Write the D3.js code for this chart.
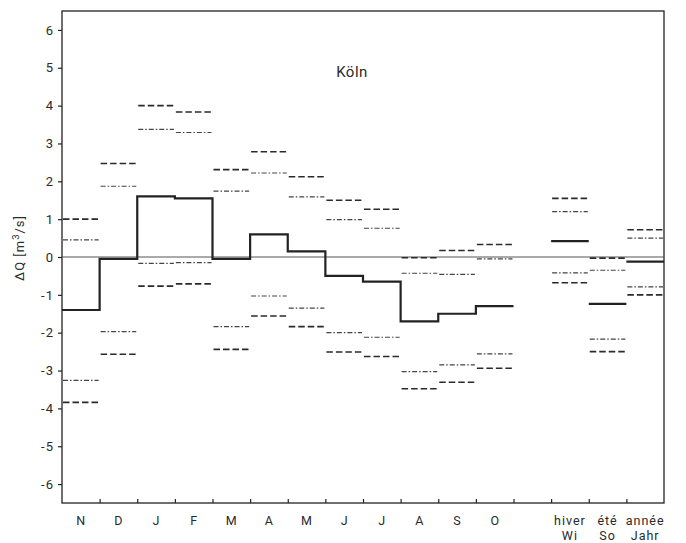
<!DOCTYPE html>
<html>
<head>
<meta charset="utf-8">
<script src="https://cdn.jsdelivr.net/npm/d3@7"></script>
<style>
  html, body { margin: 0; padding: 0; background: #fff; }
  svg { display: block; }
  text { font-family: Roboto, "DejaVu Sans", sans-serif; fill: #2a2a2a; }
</style>
</head>
<body>
<svg id="chart" width="686" height="543"></svg>
<script>
// Monthly discharge change ΔQ at Köln (hydrological year Nov–Oct) plus seasonal/annual blocks
const months = ["N", "D", "J", "F", "M", "A", "M", "J", "J", "A", "S", "O"];
const monthMean = [-1.4, -0.05, 1.6, 1.55, -0.05, 0.6, 0.15, -0.5, -0.65, -1.7, -1.5, -1.3];
const monthUpperDash = [1.0, 2.47, 4.0, 3.83, 2.31, 2.78, 2.12, 1.5, 1.26, -0.02, 0.17, 0.33];
const monthUpperDashDot = [0.45, 1.87, 3.37, 3.29, 1.74, 2.22, 1.59, 0.99, 0.76, -0.43, -0.46, -0.05];
const monthLowerDashDot = [-3.26, -1.97, -0.17, -0.15, -1.84, -1.03, -1.35, -2.0, -2.12, -3.03, -2.85, -2.56];
const monthLowerDash = [-3.84, -2.57, -0.77, -0.71, -2.44, -1.56, -1.84, -2.51, -2.63, -3.48, -3.31, -2.94];

const seasons = [["hiver", "Wi"], ["été", "So"], ["année", "Jahr"]];
const seasonMean = [0.42, -1.24, -0.12];
const seasonUpperDash = [1.55, -0.03, 0.72];
const seasonUpperDashDot = [1.2, -0.35, 0.5];
const seasonLowerDashDot = [-0.42, -2.17, -0.79];
const seasonLowerDash = [-0.68, -2.5, -1.0];

const yTicks = [-6, -5, -4, -3, -2, -1, 0, 1, 2, 3, 4, 5, 6];
const title = "Köln";

// slot layout: 12 months, one empty slot, 3 seasonal slots
const nSlots = 16;
const seasonStart = 13;

const svg = d3.select("#chart");
const plotLeft = 62, plotRight = 664, plotTop = 11, plotBottom = 503;

const x = d3.scaleLinear().domain([0, nSlots]).range([plotLeft, plotRight]);
const y = d3.scaleLinear().domain([-6.5, 6.5]).range([plotBottom, plotTop]);

const ink = "#222";
const labelSize = 12.5;
const labelSpacing = 1;

// frame
svg.append("rect")
  .attr("x", plotLeft).attr("y", plotTop)
  .attr("width", plotRight - plotLeft).attr("height", plotBottom - plotTop)
  .attr("fill", "none").attr("stroke", ink).attr("stroke-width", 1.3);

// zero line
svg.append("line")
  .attr("x1", plotLeft).attr("x2", plotRight)
  .attr("y1", y(0)).attr("y2", y(0))
  .attr("stroke", "#555").attr("stroke-width", 1);

// y axis
const yAxis = svg.append("g")
  .attr("transform", `translate(${plotLeft},0)`)
  .call(d3.axisLeft(y).tickValues(yTicks).tickSize(4)
    .tickFormat(d => d < 0 ? "-" + Math.abs(d) : String(d)));
yAxis.select(".domain").remove();
yAxis.selectAll(".tick line").attr("stroke", ink).attr("stroke-width", 1.2);
yAxis.selectAll(".tick text")
  .attr("x", -8).attr("font-size", 13).style("fill", "#2a2a2a")
  .style("letter-spacing", "1px")
  .style("font-family", "Roboto, 'DejaVu Sans', sans-serif");

// x axis: ticks at slot boundaries, pointing inward
const xAxis = svg.append("g")
  .attr("transform", `translate(0,${plotBottom})`)
  .call(d3.axisBottom(x).tickValues(d3.range(1, nSlots)).tickSizeInner(-4).tickSizeOuter(0).tickFormat(""));
xAxis.select(".domain").remove();
xAxis.selectAll(".tick line").attr("stroke", ink).attr("stroke-width", 1.2);

// month labels
svg.append("g").selectAll("text").data(months).join("text")
  .attr("x", (d, i) => x(i + 0.5))
  .attr("y", 525)
  .attr("text-anchor", "middle")
  .attr("font-size", labelSize)
  .text(d => d);

// seasonal labels (two lines)
const sl = svg.append("g").selectAll("g").data(seasons).join("g");
sl.append("text")
  .attr("x", (d, i) => x(seasonStart + i + 0.5))
  .attr("y", 525).attr("text-anchor", "middle").attr("font-size", labelSize)
  .style("letter-spacing", labelSpacing + "px")
  .text(d => d[0]);
sl.append("text")
  .attr("x", (d, i) => x(seasonStart + i + 0.5))
  .attr("y", 540).attr("text-anchor", "middle").attr("font-size", labelSize)
  .style("letter-spacing", labelSpacing + "px")
  .text(d => d[1]);

// title
svg.append("text")
  .attr("x", 352).attr("y", 77)
  .attr("text-anchor", "middle").attr("font-size", 15)
  .style("letter-spacing", "0.5px")
  .text(title);

// y axis label with superscript unit
const yl = svg.append("text")
  .attr("transform", `translate(24,248) rotate(-90)`)
  .attr("text-anchor", "middle").attr("font-size", 13)
  .style("letter-spacing", "1px");
yl.append("tspan").text("ΔQ  [m");
yl.append("tspan").attr("dy", -5).attr("font-size", 9.5).text("3");
yl.append("tspan").attr("dy", 5).text("/s]");

// horizontal band segments
const dashStyle = { dash: "6.5,3", width: 1.6, color: "#2a2a2a" };
const dashDotStyle = { dash: "5,2,1.5,2", width: 1.2, color: "#444" };

function segments(values, offset, style) {
  svg.append("g").selectAll("line").data(values).join("line")
    .attr("x1", (d, i) => x(offset + i) + 1)
    .attr("x2", (d, i) => x(offset + i + 1) - 1)
    .attr("y1", d => y(d)).attr("y2", d => y(d))
    .attr("stroke", style.color)
    .attr("stroke-width", style.width)
    .attr("stroke-dasharray", style.dash);
}

segments(monthUpperDash, 0, dashStyle);
segments(monthLowerDash, 0, dashStyle);
segments(monthUpperDashDot, 0, dashDotStyle);
segments(monthLowerDashDot, 0, dashDotStyle);
segments(seasonUpperDash, seasonStart, dashStyle);
segments(seasonLowerDash, seasonStart, dashStyle);
segments(seasonUpperDashDot, seasonStart, dashDotStyle);
segments(seasonLowerDashDot, seasonStart, dashDotStyle);

// monthly mean as a step line
const stepPts = [];
monthMean.forEach((v, i) => { stepPts.push([i, v], [i + 1, v]); });
svg.append("path")
  .attr("d", d3.line().x(d => x(d[0])).y(d => y(d[1]))(stepPts))
  .attr("fill", "none").attr("stroke", ink).attr("stroke-width", 2.2);

// seasonal means as separate segments
svg.append("g").selectAll("line").data(seasonMean).join("line")
  .attr("x1", (d, i) => x(seasonStart + i))
  .attr("x2", (d, i) => x(seasonStart + i + 1))
  .attr("y1", d => y(d)).attr("y2", d => y(d))
  .attr("stroke", ink).attr("stroke-width", 2.2);
</script>
</body>
</html>
